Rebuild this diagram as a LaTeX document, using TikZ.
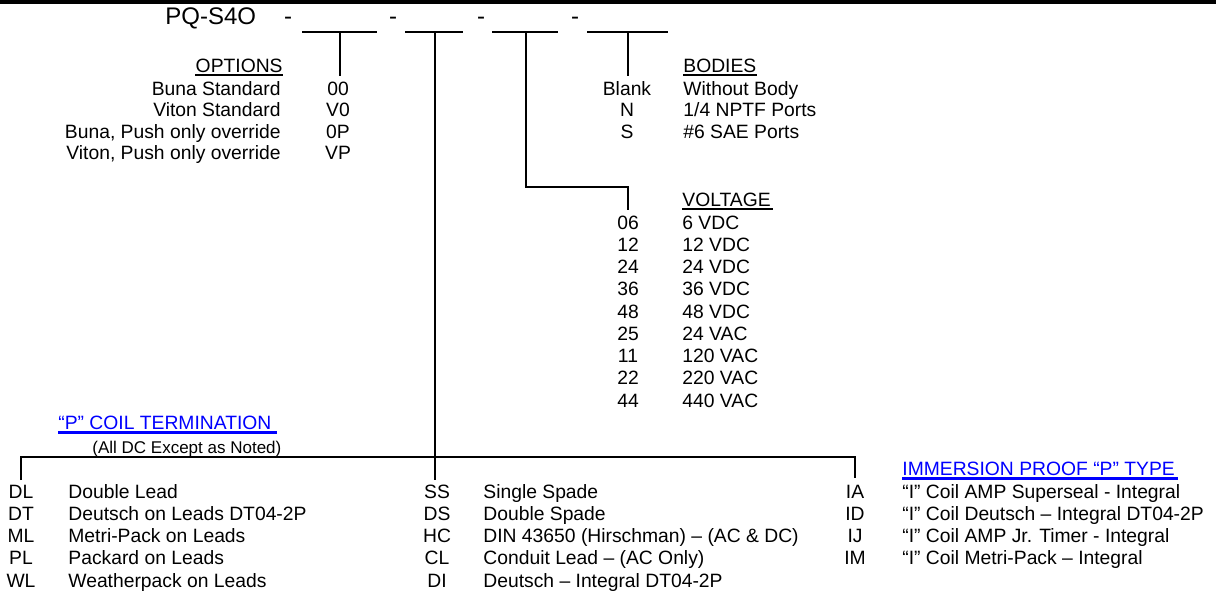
\documentclass[tikz,border=0pt]{standalone}
\usepackage{fontspec}
\setmainfont{Liberation Sans}
\usepackage{tikz}
\usetikzlibrary{calc}
\definecolor{ink}{HTML}{000000}
\definecolor{link}{HTML}{0000FF}
\newcommand{\bodysize}{\fontsize{9.65pt}{11pt}\selectfont}
\newcommand{\partsize}{\fontsize{12pt}{14pt}\selectfont}
\newcommand{\notesize}{\fontsize{8.5pt}{10pt}\selectfont}
\tikzset{
  rule/.style={draw=ink, line width=2pt},
  lead/.style={draw=ink, line width=1pt},
  blankln/.style={draw=ink, line width=1pt},
  uline/.style={draw=ink, line width=0.9pt},
  bline/.style={draw=link, line width=1.2pt},
  code/.style={anchor=base, font=\bodysize},
  desc/.style={anchor=base west, font=\bodysize},
  rdesc/.style={anchor=base east, font=\bodysize},
  part/.style={anchor=base, font=\partsize},
  hlink/.style={anchor=base west, font=\bodysize, text=link},
  every node/.style={inner sep=0pt, text=ink}
}

\begin{document}
\begin{tikzpicture}[x=0.5pt, y=-0.5pt]
  \useasboundingbox (0,0) rectangle (1216,591);
  \draw[rule] (0,2) -- (1216,2);

  % part number with its blanks
  \node[part, anchor=base west] (pq) at (165,24) {PQ-S4O};
  \node[part] (d1) at (288,24) {-};
  \node[part] (d2) at (393,24) {-};
  \node[part] (d3) at (481,24) {-};
  \node[part] (d4) at (575,24) {-};
  \coordinate (u1) at (340,32);
  \coordinate (u2) at (435,32);
  \coordinate (u3) at (526,32);
  \coordinate (u4) at (628,32);
  \draw[blankln] ($(u1)+(-38,0)$) -- ($(u1)+(37,0)$);
  \draw[blankln] ($(u2)+(-30,0)$) -- ($(u2)+(28,0)$);
  \draw[blankln] ($(u3)+(-34,0)$) -- ($(u3)+(32,0)$);
  \draw[blankln] ($(u4)+(-41,0)$) -- ($(u4)+(40,0)$);

  % options
  \node[rdesc] (optT) at (283,72) {OPTIONS};
  \draw[uline] ($(optT.base west)+(0,3)$) -- ($(optT.base east)+(0,3)$);
  \node[rdesc] (o1) at (281,95) {Buna Standard};
  \node[rdesc] (o2) at (281,116.5) {Viton Standard};
  \node[rdesc] (o3) at (281,138) {Buna, Push only override};
  \node[rdesc] (o4) at (281,159.5) {Viton, Push only override};
  \node[code] (oc1) at (338,95) {00};
  \node[code] (oc2) at (338,116.5) {V0};
  \node[code] (oc3) at (338,138) {0P};
  \node[code] (oc4) at (338,159.5) {VP};

  % bodies
  \node[desc] (bodT) at (683,72) {BODIES};
  \draw[uline] ($(bodT.base west)+(0,3)$) -- ($(bodT.base east)+(0,3)$);
  \node[code] (bc1) at (627,95) {Blank};
  \node[code] (bc2) at (627,116.5) {N};
  \node[code] (bc3) at (627,138) {S};
  \node[desc] (b1) at (683,95) {Without Body};
  \node[desc] (b2) at (683,116.5) {1/4 NPTF Ports};
  \node[desc] (b3) at (683,138) {\#6 SAE Ports};

  % voltage
  \node[desc] (volT) at (682,206) {VOLTAGE};
  \draw[uline] ($(volT.base west)+(0,3)$) -- ($(volT.base east)+(2,3)$);
  \node[code] (vc1) at (628,229) {06};
  \node[code] (vc2) at (628,251.25) {12};
  \node[code] (vc3) at (628,273.5) {24};
  \node[code] (vc4) at (628,295.75) {36};
  \node[code] (vc5) at (628,318) {48};
  \node[code] (vc6) at (628,340.25) {25};
  \node[code] (vc7) at (628,362.5) {11};
  \node[code] (vc8) at (628,384.75) {22};
  \node[code] (vc9) at (628,407) {44};
  \node[desc] (v1) at (682,229) {6 VDC};
  \node[desc] (v2) at (682,251.25) {12 VDC};
  \node[desc] (v3) at (682,273.5) {24 VDC};
  \node[desc] (v4) at (682,295.75) {36 VDC};
  \node[desc] (v5) at (682,318) {48 VDC};
  \node[desc] (v6) at (682,340.25) {24 VAC};
  \node[desc] (v7) at (682,362.5) {120 VAC};
  \node[desc] (v8) at (682,384.75) {220 VAC};
  \node[desc] (v9) at (682,407) {440 VAC};

  % coil termination
  \node[hlink] (coilT) at (58,429) {“P” COIL TERMINATION\ };
  \draw[bline] ($(coilT.base west)+(0,3.5)$) -- ($(coilT.base east)+(5,3.5)$);
  \node[desc, font=\notesize] (coilN) at (92,453) {(All DC Except as Noted)};
  \node[code] (tc1) at (21,498) {DL};
  \node[code] (tc2) at (21,520.3) {DT};
  \node[code] (tc3) at (21,542.6) {ML};
  \node[code] (tc4) at (21,564.9) {PL};
  \node[code] (tc5) at (21,587.2) {WL};
  \node[desc] (t1) at (68,498) {Double Lead};
  \node[desc] (t2) at (68,520.3) {Deutsch on Leads DT04-2P};
  \node[desc] (t3) at (68,542.6) {Metri-Pack on Leads};
  \node[desc] (t4) at (68,564.9) {Packard on Leads};
  \node[desc] (t5) at (68,587.2) {Weatherpack on Leads};
  \node[code] (sc1) at (437,498) {SS};
  \node[code] (sc2) at (437,520.3) {DS};
  \node[code] (sc3) at (437,542.6) {HC};
  \node[code] (sc4) at (437,564.9) {CL};
  \node[code] (sc5) at (437,587.2) {DI};
  \node[desc] (s1) at (483,498) {Single Spade};
  \node[desc] (s2) at (483,520.3) {Double Spade};
  \node[desc] (s3) at (483,542.6) {DIN 43650 (Hirschman) – (AC \& DC)};
  \node[desc] (s4) at (483,564.9) {Conduit Lead – (AC Only)};
  \node[desc] (s5) at (483,587.2) {Deutsch – Integral DT04-2P};

  % immersion proof
  \node[hlink] (immT) at (902,475) {IMMERSION PROOF “P” TYPE\ };
  \draw[bline] ($(immT.base west)+(0,3.5)$) -- ($(immT.base east)+(3,3.5)$);
  \node[code] (ic1) at (855,498) {IA};
  \node[code] (ic2) at (855,520.3) {ID};
  \node[code] (ic3) at (855,542.6) {IJ};
  \node[code] (ic4) at (855,564.9) {IM};
  \node[desc] (i1) at (902,498) {“I” Coil AMP Superseal - Integral};
  \node[desc] (i2) at (902,520.3) {“I” Coil Deutsch – Integral DT04-2P};
  \node[desc] (i3) at (902,542.6) {“I” Coil AMP Jr. Timer - Integral};
  \node[desc] (i4) at (902,564.9) {“I” Coil Metri-Pack – Integral};

  % leads from the blanks
  \coordinate (e1) at (340,76);
  \coordinate (e2) at (435,480);
  \coordinate (k3) at (628,187);
  \coordinate (e3) at (628,210);
  \coordinate (e4) at (628,76);
  \coordinate (tL) at (21,480);
  \coordinate (kR) at (855,457);
  \coordinate (tR) at (855,478);
  \draw[lead] (u1) -- (e1);
  \draw[lead] (u2) -- (e2);
  \draw[lead] (u3) |- (k3) -- (e3);
  \draw[lead] (u4) -- (e4);
  \draw[lead] (tL) |- (kR) -- (tR);
\end{tikzpicture}
\end{document}
